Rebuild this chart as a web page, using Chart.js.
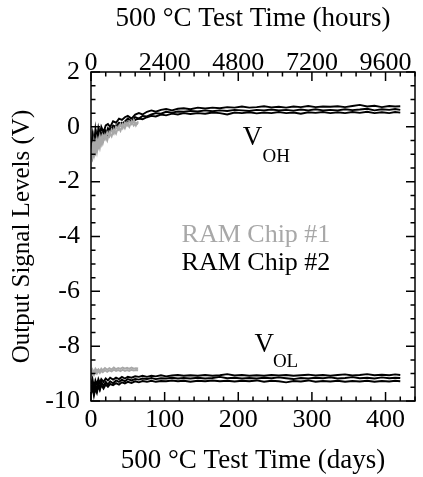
<!DOCTYPE html>
<html>
<head>
<meta charset="utf-8">
<script src="https://cdn.jsdelivr.net/npm/chart.js@4"></script>
<style>
  body { margin: 0; background: #fff; }
  canvas { display: block; }
</style>
</head>
<body>
<canvas id="ramChart" width="423" height="477"></canvas>
<script>
// tick labels
const dayTicks = [0, 100, 200, 300, 400];
const hourTicks = [0, 2400, 4800, 7200, 9600];
const voltTicks = [2, 0, -2, -4, -6, -8, -10];

// chip #2 (black) sample days
const daysChip2 = [0, 2, 4, 6, 8, 10, 12, 14, 17, 20, 23, 26, 30, 34, 38, 42, 46, 50, 55, 60,
  65, 70, 76, 82, 88, 95, 102, 110, 118, 126, 135, 145, 155, 165, 175, 185, 195, 205, 215, 225,
  235, 245, 255, 265, 275, 285, 295, 305, 315, 325, 335, 345, 355, 365, 375, 385, 395, 405, 413, 420];

const vohChip2A = [-0.9, -0.3, -0.7, -0.1, -0.5, -0.05, -0.3, 0.0, -0.2, 0.05, 0.1, 0.0, 0.2, 0.15, 0.3, 0.25, 0.35, 0.4, 0.3, 0.45,
  0.5, 0.45, 0.55, 0.6, 0.55, 0.62, 0.65, 0.6, 0.66, 0.68, 0.64, 0.7, 0.67, 0.7, 0.68, 0.72, 0.7, 0.74, 0.7, 0.72,
  0.75, 0.71, 0.73, 0.7, 0.74, 0.72, 0.76, 0.72, 0.74, 0.73, 0.75, 0.72, 0.76, 0.8, 0.74, 0.77, 0.72, 0.76, 0.74, 0.75];
const vohChip2B = [-0.6, -1.0, -0.4, -0.8, -0.3, -0.6, -0.2, -0.45, -0.15, -0.3, -0.05, -0.15, 0.05, 0.0, 0.15, 0.1, 0.2, 0.3, 0.2, 0.35,
  0.3, 0.4, 0.38, 0.45, 0.5, 0.48, 0.55, 0.52, 0.56, 0.55, 0.58, 0.56, 0.6, 0.57, 0.6, 0.58, 0.62, 0.6, 0.58, 0.62,
  0.6, 0.63, 0.6, 0.62, 0.59, 0.63, 0.6, 0.64, 0.6, 0.62, 0.6, 0.64, 0.61, 0.63, 0.66, 0.6, 0.64, 0.62, 0.65, 0.62];
const vohChip2C = [-1.0, -0.5, -0.9, -0.45, -0.75, -0.35, -0.55, -0.25, -0.45, -0.15, -0.3, -0.05, -0.1, 0.05, 0.0, 0.15, 0.1, 0.2, 0.15, 0.25,
  0.3, 0.28, 0.35, 0.4, 0.38, 0.45, 0.42, 0.48, 0.45, 0.5, 0.47, 0.5, 0.48, 0.52, 0.5, 0.45, 0.52, 0.5, 0.53, 0.49,
  0.52, 0.5, 0.54, 0.5, 0.52, 0.48, 0.53, 0.51, 0.54, 0.5, 0.53, 0.5, 0.54, 0.51, 0.55, 0.5, 0.53, 0.5, 0.54, 0.52];

const volChip2A = [-9.4, -9.2, -9.5, -9.25, -9.4, -9.2, -9.35, -9.2, -9.3, -9.18, -9.25, -9.15, -9.22, -9.15, -9.2, -9.12, -9.18, -9.12, -9.15, -9.1,
  -9.12, -9.08, -9.12, -9.08, -9.1, -9.06, -9.1, -9.07, -9.05, -9.08, -9.06, -9.08, -9.05, -9.08, -9.06, -9.02, -9.07, -9.05, -9.08, -9.06,
  -9.08, -9.05, -9.07, -9.05, -9.08, -9.06, -9.04, -9.07, -9.05, -9.08, -9.05, -9.03, -9.07, -9.05, -9.02, -9.06, -9.04, -9.06, -9.03, -9.05];
const volChip2B = [-9.6, -9.35, -9.7, -9.4, -9.6, -9.35, -9.55, -9.3, -9.45, -9.3, -9.4, -9.28, -9.35, -9.25, -9.3, -9.22, -9.28, -9.2, -9.25, -9.2,
  -9.22, -9.18, -9.2, -9.16, -9.2, -9.17, -9.18, -9.15, -9.18, -9.16, -9.18, -9.15, -9.18, -9.16, -9.12, -9.17, -9.15, -9.18, -9.16, -9.18,
  -9.15, -9.17, -9.14, -9.17, -9.2, -9.16, -9.18, -9.15, -9.17, -9.14, -9.18, -9.16, -9.13, -9.17, -9.15, -9.18, -9.14, -9.17, -9.15, -9.16];
const volChip2C = [-9.75, -9.5, -9.8, -9.55, -9.7, -9.45, -9.6, -9.42, -9.55, -9.4, -9.48, -9.38, -9.42, -9.35, -9.4, -9.32, -9.36, -9.3, -9.34, -9.28,
  -9.32, -9.27, -9.3, -9.26, -9.3, -9.27, -9.28, -9.25, -9.28, -9.26, -9.3, -9.26, -9.28, -9.25, -9.28, -9.26, -9.29, -9.26, -9.28, -9.25,
  -9.3, -9.26, -9.28, -9.32, -9.27, -9.29, -9.25, -9.3, -9.27, -9.29, -9.26, -9.3, -9.27, -9.29, -9.26, -9.3, -9.27, -9.29, -9.26, -9.28];

// chip #1 (grey) only ran ~64 days
const daysChip1 = [0, 2, 4, 6, 8, 10, 12, 14, 16, 19, 22, 25, 28, 31, 34, 37, 40, 43, 46, 49, 52, 55, 58, 61, 64];
const vohChip1A = [-1.2, -0.7, -1.0, -0.6, -0.9, -0.5, -0.75, -0.4, -0.6, -0.3, -0.5, -0.2, -0.35, -0.1, -0.25, 0.0, -0.15, 0.1, -0.05, 0.15, 0.0, 0.2, 0.05, 0.15, 0.1];
const vohChip1B = [-0.9, -1.1, -0.55, -0.85, -0.45, -0.7, -0.35, -0.6, -0.3, -0.45, -0.2, -0.35, -0.1, -0.25, 0.0, -0.1, 0.1, -0.05, 0.15, 0.05, 0.2, 0.1, 0.25, 0.05, 0.2];
const volChip1A = [-9.0, -8.85, -8.95, -8.82, -8.9, -8.84, -8.92, -8.82, -8.88, -8.8, -8.86, -8.8, -8.85, -8.78, -8.84, -8.8, -8.83, -8.78, -8.82, -8.79, -8.83, -8.78, -8.82, -8.8, -8.81];
const volChip1B = [-9.1, -8.95, -9.05, -8.92, -9.0, -8.9, -8.98, -8.9, -8.95, -8.88, -8.94, -8.88, -8.92, -8.86, -8.9, -8.87, -8.91, -8.86, -8.9, -8.87, -8.9, -8.86, -8.89, -8.87, -8.88];

const GREY = '#a8a8a8';
const FONT = "'Liberation Serif', 'Times New Roman', serif";

function toPoints(days, values) {
  return days.map((d, i) => ({ x: d, y: values[i] }));
}

function trace(days, values, color) {
  return {
    data: toPoints(days, values),
    borderColor: color,
    borderWidth: 1.9,
    pointRadius: 0,
    tension: 0,
    fill: false,
  };
}

// frame + inward ticks, drawn from the chart's own scales
const frameTicks = {
  id: 'frameTicks',
  afterDraw(chart) {
    const { ctx, chartArea: a, scales } = chart;
    ctx.save();
    ctx.strokeStyle = '#000';
    ctx.lineWidth = 1.5;
    ctx.strokeRect(a.left, a.top, a.right - a.left, a.bottom - a.top);
    ctx.beginPath();
    for (let d = 0; d <= 440; d += 20) {
      const len = d % 100 === 0 ? 9 : 4.5;
      const px = scales.x.getPixelForValue(d);
      ctx.moveTo(px, a.bottom); ctx.lineTo(px, a.bottom - len);
    }
    for (let h = 0; h <= 10560; h += 480) {
      const len = h % 2400 === 0 ? 9 : 4.5;
      const px = scales.x2.getPixelForValue(h);
      ctx.moveTo(px, a.top); ctx.lineTo(px, a.top + len);
    }
    for (let v = -10; v <= 2; v += 0.5) {
      const len = v % 2 === 0 ? 9 : 4.5;
      const py = scales.y.getPixelForValue(v);
      ctx.moveTo(a.left, py); ctx.lineTo(a.left + len, py);
      ctx.moveTo(a.right, py); ctx.lineTo(a.right - len, py);
    }
    ctx.stroke();

    // labels inside the plot
    const px = (d) => scales.x.getPixelForValue(d);
    const py = (v) => scales.y.getPixelForValue(v);
    ctx.textAlign = 'left';
    ctx.textBaseline = 'alphabetic';
    ctx.fillStyle = '#000';
    ctx.font = '27px ' + FONT;
    ctx.fillText('V', px(206), py(-0.66));
    ctx.fillText('V', px(222), py(-8.2));
    ctx.font = '19px ' + FONT;
    ctx.fillText('OH', px(233), py(-1.28));
    ctx.fillText('OL', px(247), py(-8.76));
    ctx.font = '26px ' + FONT;
    ctx.fillStyle = GREY;
    ctx.fillText('RAM Chip #1', px(123), py(-4.2));
    ctx.fillStyle = '#000';
    ctx.fillText('RAM Chip #2', px(123), py(-5.22));
    ctx.restore();
  },
};

const tickFont = { family: FONT, size: 26, lineHeight: 1 };
const plainNumber = (value) => String(value);

const ctx = document.getElementById('ramChart').getContext('2d');
new Chart(ctx, {
  type: 'line',
  data: {
    datasets: [
      trace(daysChip1, vohChip1A, GREY),
      trace(daysChip1, vohChip1B, GREY),
      trace(daysChip1, volChip1A, GREY),
      trace(daysChip1, volChip1B, GREY),
      trace(daysChip2, vohChip2A, '#000'),
      trace(daysChip2, vohChip2B, '#000'),
      trace(daysChip2, vohChip2C, '#000'),
      trace(daysChip2, volChip2A, '#000'),
      trace(daysChip2, volChip2B, '#000'),
      trace(daysChip2, volChip2C, '#000'),
    ],
  },
  options: {
    responsive: false,
    animation: false,
    devicePixelRatio: 1,
    layout: { padding: 0 },
    plugins: { legend: { display: false }, tooltip: { enabled: false } },
    scales: {
      x: {
        type: 'linear', position: 'bottom', min: 0, max: 440,
        grid: { display: false, drawTicks: false }, border: { display: false },
        afterBuildTicks: (s) => { s.ticks = dayTicks.map((v) => ({ value: v })); },
        afterFit: (s) => { s.height = 76; },
        ticks: { font: tickFont, color: '#000', padding: 6, maxRotation: 0, autoSkip: false, callback: plainNumber },
        title: { display: true, text: '500 °C Test Time (days)', color: '#000',
          font: { family: FONT, size: 27 }, padding: { top: 0, bottom: 0 } },
      },
      x2: {
        type: 'linear', position: 'top', min: 0, max: 10560,
        grid: { display: false, drawTicks: false }, border: { display: false },
        afterBuildTicks: (s) => { s.ticks = hourTicks.map((v) => ({ value: v })); },
        afterFit: (s) => { s.height = 72; },
        ticks: { font: tickFont, color: '#000', padding: -4, maxRotation: 0, autoSkip: false, callback: plainNumber },
        title: { display: true, text: '500 °C Test Time (hours)', color: '#000',
          font: { family: FONT, size: 27 }, padding: { top: 3, bottom: 0 } },
      },
      y: {
        type: 'linear', position: 'left', min: -10, max: 2,
        grid: { display: false, drawTicks: false }, border: { display: false },
        afterBuildTicks: (s) => { s.ticks = voltTicks.map((v) => ({ value: v })); },
        afterFit: (s) => { s.width = 91; },
        ticks: { font: tickFont, color: '#000', padding: 11, autoSkip: false, callback: plainNumber },
        title: { display: true, text: 'Output Signal Levels (V)', color: '#000',
          font: { family: FONT, size: 25 }, padding: { top: 7, bottom: 0 } },
      },
      y2: {
        type: 'linear', position: 'right', min: -10, max: 2,
        grid: { display: false, drawTicks: false }, border: { display: false },
        afterFit: (s) => { s.width = 8; },
        ticks: { display: false },
      },
    },
  },
  plugins: [frameTicks],
});
</script>
</body>
</html>
